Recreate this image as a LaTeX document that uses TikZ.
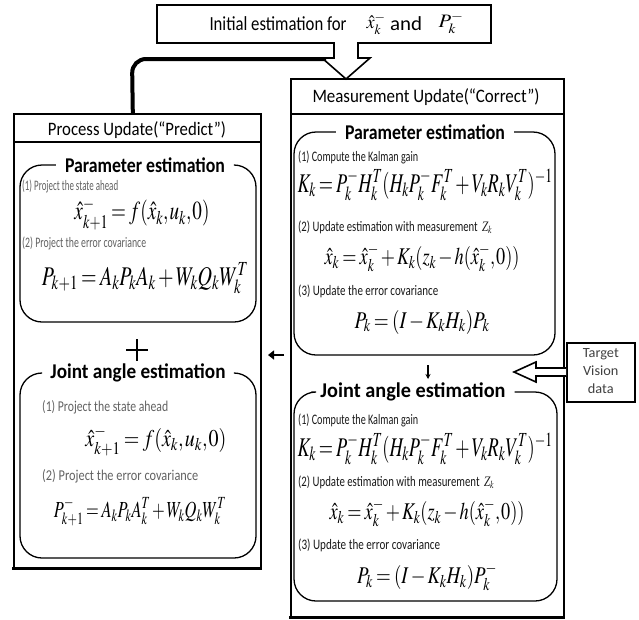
\documentclass[tikz,border=0pt]{standalone}
\usepackage{mathptmx}
\usepackage[no-math]{fontspec}
\setmainfont{Carlito}
\usepackage{graphicx}
\usetikzlibrary{arrows.meta}
% width, font size, content
\newcommand{\fw}[3]{\resizebox{#1pt}{\height}{\fontsize{#2}{#2}\selectfont #3}}
\newcommand{\tightm}{\thinmuskip=1mu\medmuskip=2mu\thickmuskip=3mu}
\begin{document}
\begin{tikzpicture}[x=1pt,y=-1pt]
\useasboundingbox (0,0) rectangle (639,619);
\tikzset{
  bigbox/.style={draw, line width=1.6pt, anchor=north west, inner sep=0pt},
  rbox/.style={line width=1.3pt, rounded corners=22pt},
  ttl/.style={inner xsep=9pt, inner ysep=0pt, font=\bfseries},
  hdr/.style={inner sep=0pt},
  lbl/.style={anchor=west, inner sep=0pt, text=black!90},
  glbl/.style={anchor=west, inner sep=0pt, text=black!62},
  fml/.style={inner sep=0pt},
}
% ---------- top box ----------
\node[bigbox, minimum width=334pt, minimum height=38pt] (init) at (156,4) {};
\node[hdr] (inittxt) at (278,24) {\fw{137}{20}{Initial estimation for}};
\node[hdr] (initx) at (376,24) {\fw{19}{19}{$\hat{x}_k^{-}$}};
\node[hdr] (initand) at (406,24) {\fw{32}{20}{and}};
\node[hdr] (initp) at (451,23) {\fw{25}{19}{$P_k^{-}$}};
% ---------- process box ----------
\node[bigbox, minimum width=247pt, minimum height=454pt] (proc) at (13,113) {};
\draw[line width=1.6pt] ([yshift=-29pt]proc.north west) -- ([yshift=-29pt]proc.north east);
\draw[line width=3pt] ([xshift=-0.8pt]proc.south west) -- ([xshift=0.8pt]proc.south east);
\node[hdr] (proctitle) at (137,130) {\fw{178}{19}{Process Update(“Predict”)}};
% ---------- measurement box ----------
\node[bigbox, minimum width=273pt, minimum height=538pt] (meas) at (290,78) {};
\draw[line width=1.6pt] ([yshift=-36pt]meas.north west) -- ([yshift=-36pt]meas.north east);
\draw[line width=3pt] ([xshift=-0.8pt]meas.south west) -- ([xshift=0.8pt]meas.south east);
\node[hdr] (meastitle) at (426,97) {\fw{227}{19}{Measurement Update(“Correct”)}};
% ---------- connectors at top ----------
\draw[line width=1.6pt, fill=white] (334,42) -- (334,58) -- (322,58) -- (346,79) -- (370,58) -- (358,58) -- (358,42);
\coordinate (thickend) at (326,59);
\draw[line width=4pt, rounded corners=14pt] (thickend) -- (132,59) -- ([xshift=-4.5pt]proc.north);
% ---------- left parameter estimation ----------
\node[ttl] (lpt) at (145,165) {\fw{160}{21}{Parameter estimation}};
\draw[rbox] (lpt.west) -- (20,165) -- (20,322) -- (256,322) -- (256,165) -- (lpt.east);
\node[glbl] (l1) at (22,186) {\fw{96}{14.5}{(1) Project the state ahead}};
\node[fml] (lf1) at (142,214) {\fw{135}{26}{\tightm$\hat{x}_{k+1}^{-} = f(\hat{x}_k, u_k, 0)$}};
\node[glbl] (l2) at (22,243) {\fw{124}{14.5}{(2) Project the error covariance}};
\node[fml] (lf2) at (145,278) {\fw{206}{27}{\tightm$P_{k+1} = A_k P_k A_k + W_k Q_k W_k^{T}$}};
% plus
\draw[line width=2.6pt] (126,350) -- (148,350) (137,339) -- (137,361);
% ---------- left joint angle estimation ----------
\node[ttl] (ljt) at (138,373) {\fw{175}{21}{Joint angle estimation}};
\draw[rbox] (ljt.west) -- (20,373) -- (20,558) -- (256,558) -- (256,373) -- (ljt.east);
\node[glbl] (j1) at (42,407) {\fw{126}{15}{(1) Project the state ahead}};
\node[fml] (jf1) at (156,441) {\fw{141}{24}{\tightm$\hat{x}_{k+1}^{-} = f(\hat{x}_k, u_k, 0)$}};
\node[glbl] (j2) at (42,476) {\fw{156}{15}{(2) Project the error covariance}};
\node[fml] (jf2) at (140,512) {\fw{172}{23}{\tightm$P_{k+1}^{-} = A_k P_k A_k^{T} + W_k Q_k W_k^{T}$}};
% ---------- right parameter estimation ----------
\node[ttl] (rpt) at (425,132) {\fw{160}{21}{Parameter estimation}};
\draw[rbox] (rpt.west) -- (294,132) -- (294,355) -- (555,355) -- (555,132) -- (rpt.east);
\node[lbl] (r1) at (298,157) {\fw{120}{14.5}{(1) Compute the Kalman gain}};
\node[fml] (rf1) at (425,185) {\fw{255}{27}{\tightm$K_k = P_k^{-} H_k^{T} (H_k P_k^{-} F_k^{T} + V_k R_k V_k^{T})^{-1}$}};
\node[lbl] (r2) at (298,227) {\fw{194}{14.5}{(2) Update estimation with measurement\hspace{6pt}$Z_k$}};
\node[fml] (rf2) at (422,258) {\fw{195}{24}{\tightm$\hat{x}_k = \hat{x}_k^{-} + K_k (z_k - h(\hat{x}_k^{-}, 0))$}};
\node[lbl] (r3) at (298,291) {\fw{140}{14.5}{(3) Update the error covariance}};
\node[fml] (rf3) at (422,322) {\fw{135}{24}{\tightm$P_k = (I - K_k H_k) P_k$}};
% ---------- right joint angle estimation ----------
\node[ttl] (rjt) at (413,392) {\fw{185}{21}{Joint angle estimation}};
\draw[rbox] (rjt.west) -- (294,392) -- (294,601) -- (557,601) -- (557,392) -- (rjt.east);
\node[lbl] (s1) at (298,420) {\fw{120}{14.5}{(1) Compute the Kalman gain}};
\node[fml] (sf1) at (425,449) {\fw{255}{27}{\tightm$K_k = P_k^{-} H_k^{T} (H_k P_k^{-} F_k^{T} + V_k R_k V_k^{T})^{-1}$}};
\node[lbl] (s2) at (298,482) {\fw{196}{14.5}{(2) Update estimation with measurement\hspace{6pt}$Z_k$}};
\node[fml] (sf2) at (427,513) {\fw{195}{24}{\tightm$\hat{x}_k = \hat{x}_k^{-} + K_k (z_k - h(\hat{x}_k^{-}, 0))$}};
\node[lbl] (s3) at (298,545) {\fw{142}{14.5}{(3) Update the error covariance}};
\node[fml] (sf3) at (427,577) {\fw{140}{24}{\tightm$P_k = (I - K_k H_k) P_k^{-}$}};
% ---------- small arrows ----------
\coordinate (da1) at (428,365);
\coordinate (da2) at (428,379);
\draw[line width=1.2pt, -{Stealth[length=5pt,width=5pt]}] (da1) -- (da2);
\coordinate (la1) at (284,355);
\coordinate (la2) at (268,355);
\draw[line width=2.4pt, -{Triangle[length=6pt,width=9pt]}] (la1) -- (la2);
% ---------- target vision data ----------
\node[bigbox, minimum width=68pt, minimum height=59pt] (tgt) at (566,342) {};
\node[align=center, inner sep=0pt, text=black!75] (tgttxt) at (tgt.center) {\resizebox{36pt}{\height}{\fontsize{14}{18}\selectfont\begin{tabular}{@{}c@{}}Target\\Vision\\data\end{tabular}}};
\draw[line width=1.6pt, fill=white] (tgt.west |- 0,368) -- (536,368) -- (536,362) -- (514,372) -- (536,382) -- (536,376) -- (tgt.west |- 0,376);
\end{tikzpicture}
\end{document}
